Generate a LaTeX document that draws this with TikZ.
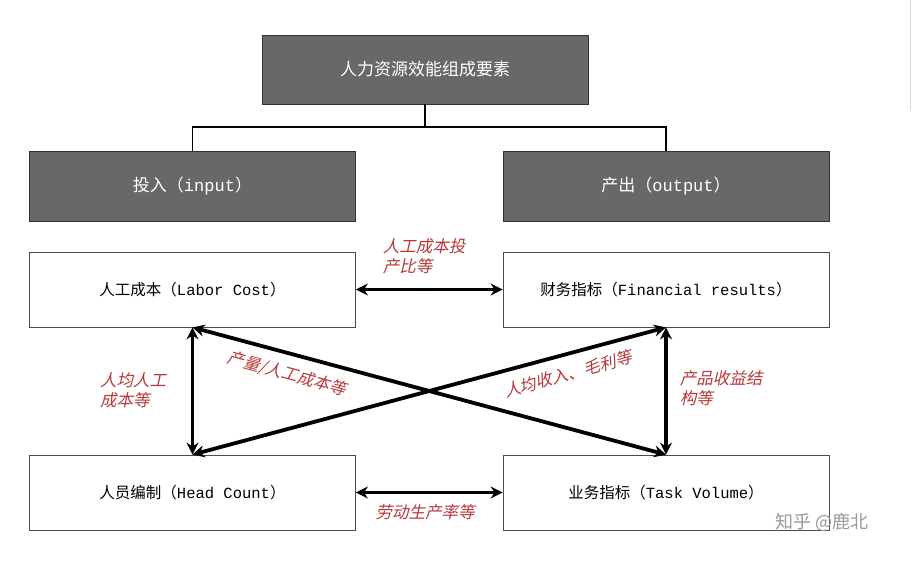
\documentclass[tikz,border=0pt]{standalone}
\usepackage{fontspec}
\setmainfont{Liberation Mono}
\newfontfamily\cjk{Noto Sans CJK SC}
\newfontfamily\cjksl{Noto Sans CJK SC}[FakeSlant=0.22]
\usetikzlibrary{arrows.meta}
\definecolor{dk}{HTML}{686868}
\definecolor{rd}{HTML}{B8383A}
\begin{document}
\begin{tikzpicture}[x=1pt,y=-1pt,
  dbox/.style={draw=black!80,fill=dk,text=white,minimum width=326pt,minimum height=70pt,font=\fontsize{17}{20}\selectfont,line width=0.8pt},
  wbox/.style={draw=black!70,fill=white,minimum width=326pt,minimum height=75pt,font=\fontsize{15.5}{18}\selectfont,line width=0.8pt},
  arr/.style={{Stealth[length=12pt,width=12pt]}-{Stealth[length=12pt,width=12pt]},line width=3.8pt},
  lab/.style={text=rd,font=\cjksl\fontsize{16.5}{20}\selectfont,align=left}]
\useasboundingbox (0,0) rectangle (915,561);
\fill[white] (0,0) rectangle (915,561);
\draw[black!15,line width=1pt] (910,0) -- (910,110);
\node[dbox,minimum width=326pt,minimum height=69pt] (top) at (425,69.5) {{\cjk 人力资源效能组成要素}};
\node[dbox] (in) at (192.5,186) {{\cjk 投入（}input{\cjk ）}};
\node[dbox] (out) at (666,186) {{\cjk 产出（}output{\cjk ）}};
\node[wbox] (lc) at (192.5,289.5) {{\cjk 人工成本（}Labor Cost{\cjk ）}};
\node[wbox] (fr) at (666,289.5) {{\cjk 财务指标（}Financial results{\cjk ）}};
\node[wbox] (hc) at (192.5,492.5) {{\cjk 人员编制（}Head Count{\cjk ）}};
\node[wbox] (tv) at (666,492.5) {{\cjk 业务指标（}Task Volume{\cjk ）}};
\coordinate (j) at (425,127);
\draw[line width=1.3pt] (top.south) -- (j);
\draw[line width=1.3pt] (in.north) |- (j) -| (out.north);
\draw[arr] (lc.east) -- (fr.west);
\draw[arr] (hc.east) -- (tv.west);
\draw[arr] (lc.south) -- (hc.north);
\draw[arr] (fr.south) -- (tv.north);
\draw[arr] (lc.south) -- (tv.north);
\draw[arr] (hc.north) -- (fr.south);
\node[lab] at (424,256) {人工成本投\\产比等};
\node[lab] at (425,512) {劳动生产率等};
\node[lab] at (133,390) {人均人工\\成本等};
\node[lab] at (721,388) {产品收益结\\构等};
\node[lab,rotate=-15.5] at (287,374) {产量/人工成本等};
\node[lab,rotate=15.5] at (568,374) {人均收入、毛利等};
\node[text=black!40,font=\cjk\fontsize{18}{20}\selectfont] at (822,522) {知乎 @鹿北};
\end{tikzpicture}
\end{document}
